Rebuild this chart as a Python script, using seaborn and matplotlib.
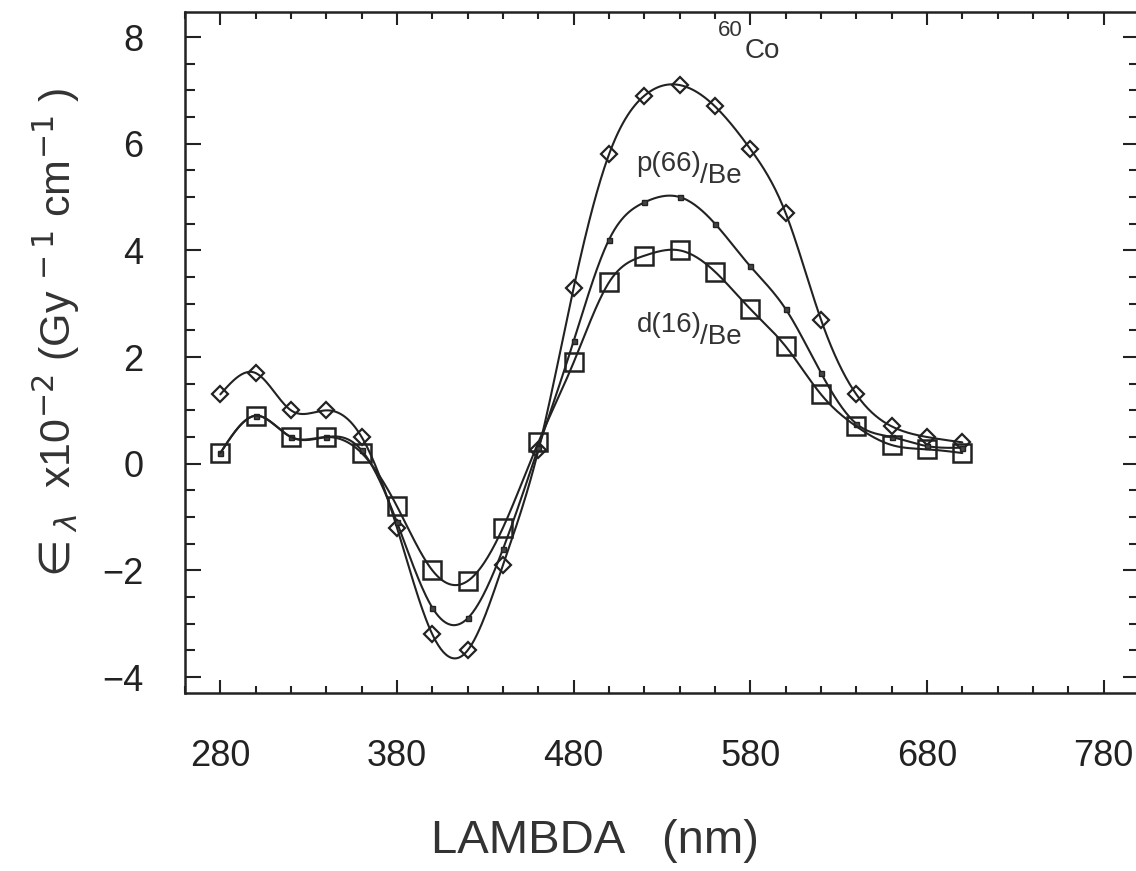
import numpy as np
import matplotlib
matplotlib.use("Agg")
import matplotlib.pyplot as plt
import seaborn as sns
from matplotlib.ticker import MultipleLocator

# ---- data ----
wavelength = [280, 300, 320, 340, 360, 380, 400, 420, 440, 460, 480,
              500, 520, 540, 560, 580, 600, 620, 640, 660, 680, 700]
co60 = [1.3, 1.7, 1.0, 1.0, 0.5, -1.2, -3.2, -3.5, -1.9, 0.25, 3.3,
        5.8, 6.9, 7.1, 6.7, 5.9, 4.7, 2.7, 1.3, 0.7, 0.5, 0.4]
p66_be = [0.2, 0.9, 0.5, 0.5, 0.25, -1.1, -2.7, -2.9, -1.6, 0.3, 2.3,
          4.2, 4.9, 5.0, 4.5, 3.7, 2.9, 1.7, 0.75, 0.5, 0.33, 0.3]
d16_be = [0.2, 0.9, 0.5, 0.5, 0.2, -0.8, -2.0, -2.2, -1.2, 0.4, 1.9,
          3.4, 3.9, 4.0, 3.6, 2.9, 2.2, 1.3, 0.7, 0.35, 0.27, 0.2]
x_ticks = [280, 380, 480, 580, 680, 780]
y_ticks = [-4, -2, 0, 2, 4, 6, 8]


def natural_spline(x, y, num=600):
    x = np.asarray(x, float)
    y = np.asarray(y, float)
    n = len(x)
    h = np.diff(x)
    A = np.zeros((n, n))
    r = np.zeros(n)
    A[0, 0] = A[-1, -1] = 1.0
    for i in range(1, n - 1):
        A[i, i - 1] = h[i - 1]
        A[i, i] = 2 * (h[i - 1] + h[i])
        A[i, i + 1] = h[i]
        r[i] = 6 * ((y[i + 1] - y[i]) / h[i] - (y[i] - y[i - 1]) / h[i - 1])
    M = np.linalg.solve(A, r)
    xs = np.linspace(x[0], x[-1], num)
    idx = np.clip(np.searchsorted(x, xs) - 1, 0, n - 2)
    x0, x1 = x[idx], x[idx + 1]
    hh = x1 - x0
    t0 = x1 - xs
    t1 = xs - x0
    ys = (M[idx] * t0 ** 3 / (6 * hh) + M[idx + 1] * t1 ** 3 / (6 * hh)
          + (y[idx] / hh - M[idx] * hh / 6) * t0
          + (y[idx + 1] / hh - M[idx + 1] * hh / 6) * t1)
    return xs, ys


sns.set_style("white")
plt.rcParams["font.family"] = ["Liberation Sans", "DejaVu Sans"]
plt.rcParams["mathtext.fontset"] = "dejavusans"

ink = "#222222"
txt = "#333333"
fig = plt.figure(figsize=(11.36, 8.71), dpi=100)
ax = fig.add_axes([185 / 1136, 1 - 693 / 871, (1139 - 185) / 1136, (693 - 12) / 871])

series = [
    (co60, dict(marker="D", markersize=8.5, markerfacecolor="none",
                markeredgecolor=ink, markeredgewidth=1.6)),
    (p66_be, dict(marker="s", markersize=3.6, markerfacecolor="#444444",
                  markeredgecolor=ink, markeredgewidth=1.0)),
    (d16_be, dict(marker="s", markersize=12.5, markerfacecolor="none",
                  markeredgecolor=ink, markeredgewidth=1.8)),
]

for vals, mk in series:
    xs, ys = natural_spline(wavelength, vals)
    sns.lineplot(x=xs, y=ys, ax=ax, color=ink, linewidth=1.5, sort=False)
    sns.lineplot(x=wavelength, y=vals, ax=ax, linestyle="", sort=False, **mk)

ax.set_xlim(260, 800)
ax.set_ylim(-4.3, 8.47)
ax.set_xticks(x_ticks)
ax.set_yticks(y_ticks)
ax.xaxis.set_minor_locator(MultipleLocator(20))
ax.yaxis.set_minor_locator(MultipleLocator(0.5))
ax.set_xticklabels([str(v) for v in x_ticks])
ax.set_yticklabels([f"{v}".replace("-", "\u2212") for v in y_ticks])

ax.tick_params(axis="x", which="major", direction="in", length=9.5, width=1.5,
               top=True, bottom=True, pad=33, labelsize=26, colors=ink)
ax.tick_params(axis="x", which="minor", direction="in", length=5, width=1.5,
               top=True, bottom=True, colors=ink)
ax.tick_params(axis="y", which="major", direction="in", length=11.5, width=1.5,
               left=True, right=True, pad=30, labelsize=26, colors=ink)
ax.tick_params(axis="y", which="minor", direction="in", length=7, width=1.5,
               left=True, right=True, colors=ink)
for sp in ax.spines.values():
    sp.set_linewidth(1.8)
    sp.set_color(ink)

ax.set_xlabel("LAMBDA   (nm)", fontsize=34, color=txt)
ax.xaxis.set_label_coords(0.43, -0.185)
ax.set_ylabel(r"$\in_{\lambda}$  x10$^{-2}$ (Gy$^{\,-1}$ cm$^{-1}$ )", fontsize=31, color=txt)
ax.yaxis.set_label_coords(-0.108, 0.523)

ann = dict(color=txt, fontsize=20, va="center", ha="left")
t60 = ax.text(561.4, 8.12, "60", color=txt, fontsize=16, va="center", ha="left")
ax.annotate("Co", xy=(1, 0.15), xycoords=t60, xytext=(2, 0), textcoords="offset points",
            va="top", ha="left", color=txt, fontsize=20)
tp = ax.text(515.6, 5.62, "p(66)", **ann)
ax.annotate("/Be", xy=(1, 0.55), xycoords=tp, xytext=(-1, 0), textcoords="offset points",
            va="top", ha="left", color=txt, fontsize=20)
td = ax.text(515.6, 2.6, "d(16)", **ann)
ax.annotate("/Be", xy=(1, 0.55), xycoords=td, xytext=(-1, 0), textcoords="offset points",
            va="top", ha="left", color=txt, fontsize=20)

fig.savefig("out.png", dpi=100, facecolor="white")
